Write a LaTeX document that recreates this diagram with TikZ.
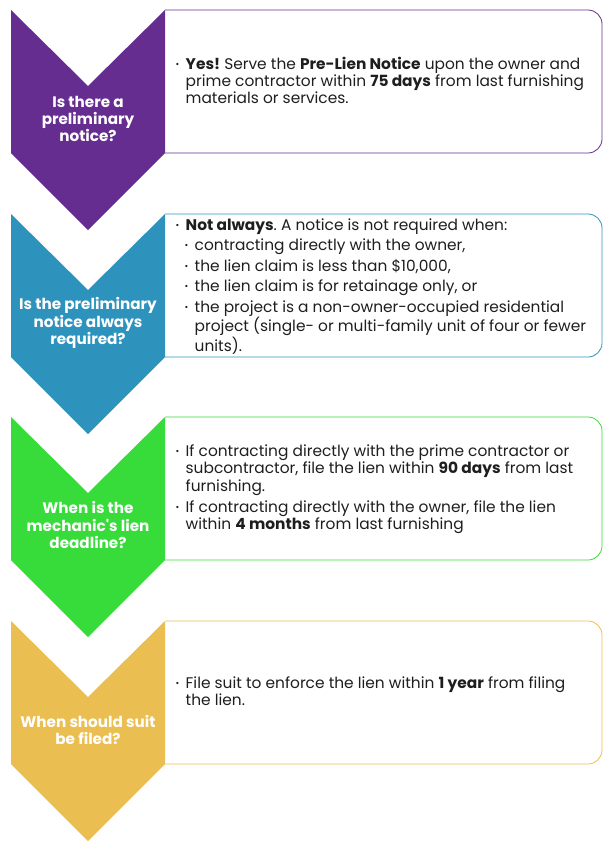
\documentclass[tikz,border=0pt]{standalone}
\usepackage{fontspec}
\setmainfont{Poppins}
\usepackage{tikz}
\frenchspacing

\definecolor{qpurple}{HTML}{652D90}
\definecolor{qblue}{HTML}{2E93BC}
\definecolor{qgreen}{HTML}{37DB3A}
\definecolor{qgold}{HTML}{EBBE52}
\definecolor{ink}{HTML}{1E1E1E}

\tikzset{
  question/.style={text=white, align=center, inner sep=0pt,
    font=\bfseries\fontsize{15.2}{17.3}\selectfont},
  answer/.style={anchor=north west, inner sep=0pt, align=left, text=ink,
    font=\fontsize{15.4}{17.4}\selectfont},
  frame/.style={line width=0.8pt, rounded corners=14pt},
}
\newcommand{\bul}{\makebox[7.5pt][l]{\hspace*{-2.5pt}\raisebox{1.8pt}{\fontsize{9}{9}\selectfont\textbullet}}}
\newcommand{\ind}{\hspace*{7.5pt}}
\newcommand{\subind}{\hspace*{9pt}}

\begin{document}
\begin{tikzpicture}[x=1pt,y=-1pt]
  \useasboundingbox (0,0) rectangle (613,846);

  % first question
  \draw[frame, color=qpurple] (165,10) -- (602,10) -- (602,153) -- (165,153);
  \fill[qpurple] (11,10) -- (88,86) -- (165,10) -- (165,153) -- (88,230) -- (11,153) -- cycle;
  \node[question] (q1) at (88,119) {Is there a\\preliminary\\notice?};
  \node[answer] (a1) at (178,56.5) {\bul\textbf{Yes!} Serve the \textbf{Pre-Lien Notice} upon the owner and\\
    \ind prime contractor within \textbf{75 days} from last furnishing\\
    \ind materials or services.};

  % second question
  \draw[frame, color=qblue] (165,214) -- (602,214) -- (602,357) -- (165,357);
  \fill[qblue] (11,214) -- (88,290) -- (165,214) -- (165,357) -- (88,434) -- (11,357) -- cycle;
  \node[question] (q2) at (88,323) {Is the preliminary\\notice always\\required?};
  \node[answer] (a2) at (178,218.5) {\bul\textbf{Not always}. A notice is not required when:\\[2.6pt]
    \subind\bul contracting directly with the owner,\\[3.2pt]
    \subind\bul the lien claim is less than \$10,000,\\[3.2pt]
    \subind\bul the lien claim is for retainage only, or\\[3.2pt]
    \subind\bul the project is a non-owner-occupied residential\\
    \subind\ind project (single- or multi-family unit of four or fewer\\
    \subind\ind units).};

  % third question
  \draw[frame, color=qgreen] (165,417) -- (602,417) -- (602,560) -- (165,560);
  \fill[qgreen] (11,417) -- (88,493) -- (165,417) -- (165,560) -- (88,637) -- (11,560) -- cycle;
  \node[question] (q3) at (88,525) {When is the\\mechanic\textquotesingle s lien\\deadline?};
  \node[answer] (a3) at (178,444.5) {\bul If contracting directly with the prime contractor or\\
    \ind subcontractor, file the lien within \textbf{90 days} from last\\
    \ind furnishing.\\[3.5pt]
    \bul If contracting directly with the owner, file the lien\\
    \ind within \textbf{4 months} from last furnishing};

  % fourth question
  \draw[frame, color=qgold] (165,621) -- (602,621) -- (602,764) -- (165,764);
  \fill[qgold] (11,621) -- (88,697) -- (165,621) -- (165,764) -- (88,841) -- (11,764) -- cycle;
  \node[question] (q4) at (88,730) {When should suit\\be filed?};
  \node[answer] (a4) at (178,676.5) {\bul File suit to enforce the lien within \textbf{1 year} from filing\\
    \ind the lien.};

\end{tikzpicture}
\end{document}
